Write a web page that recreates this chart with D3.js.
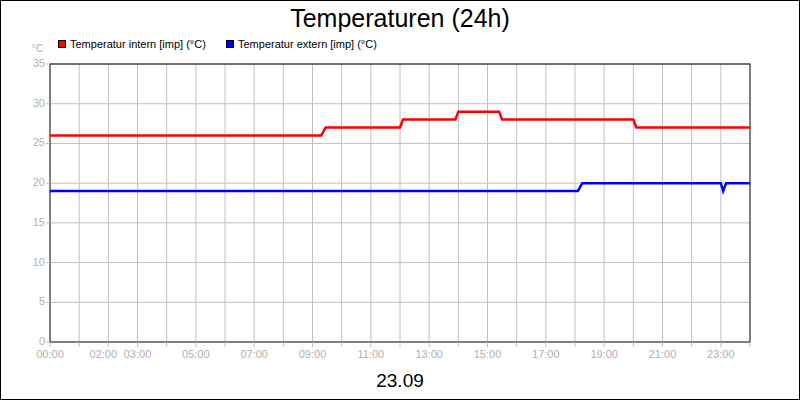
<!DOCTYPE html><html><head><meta charset="utf-8"><script src="https://cdn.jsdelivr.net/npm/d3@7"></script>
<style>body{margin:0}svg{font-family:"Liberation Sans",Arial,sans-serif}</style></head><body><svg id="c" width="800" height="400"></svg>
<script>
const internHours=[0,9.3,9.45,12.0,12.1,13.9,14.0,15.4,15.5,20.0,20.1,24];
const internVals=[26,26,27,27,28,28,29,29,28,28,27,27];
const externHours=[0,18.1,18.25,23.0,23.08,23.18,24];
const externVals=[19,19,20,20,19,20,20];
const tickHours=[0,2,3,5,7,9,11,13,15,17,19,21,23];
const tickLabels=["00:00","02:00","03:00","05:00","07:00","09:00","11:00","13:00","15:00","17:00","19:00","21:00","23:00"];
const yTicks=[0,5,10,15,20,25,30,35];
const svg=d3.select("#c");
svg.append("rect").attr("x",0.5).attr("y",0.5).attr("width",799).attr("height",399).attr("fill","#fff").attr("stroke","#000");
const x=d3.scaleLinear().domain([0,24]).range([50,750]);
const y=d3.scaleLinear().domain([0,35]).range([342,64]);
const g=svg.append("g");
g.selectAll(".vg").data(d3.range(1,24)).join("line").attr("x1",d=>x(d)).attr("x2",d=>x(d)).attr("y1",64).attr("y2",342).attr("stroke","#c0c0c0");
g.selectAll(".hg").data(yTicks.slice(1)).join("line").attr("x1",50).attr("x2",750).attr("y1",d=>y(d)).attr("y2",d=>y(d)).attr("stroke","#c0c0c0");
svg.append("rect").attr("x",50).attr("y",64).attr("width",700).attr("height",278).attr("fill","none").attr("stroke","#000");
svg.selectAll(".yt").data(yTicks).join("line").attr("x1",46).attr("x2",50).attr("y1",d=>y(d)).attr("y2",d=>y(d)).attr("stroke","#c0c0c0");
svg.selectAll(".yl").data(yTicks).join("text").attr("x",45).attr("y",d=>y(d)+3).attr("text-anchor","end").attr("font-size",11).attr("fill","#b0b0b0").text(d=>d);
svg.selectAll(".xt").data(d3.range(0,25)).join("line").attr("x1",d=>x(d)).attr("x2",d=>x(d)).attr("y1",342).attr("y2",347).attr("stroke","#c0c0c0");
svg.selectAll(".xl").data(tickHours).join("text").attr("x",(d,i)=>x(d)+(i==1?-5:0)).attr("y",358).attr("text-anchor","middle").attr("font-size",11).attr("fill","#b0b0b0").text((d,i)=>tickLabels[i]);
svg.append("text").attr("x",43).attr("y",52).attr("text-anchor","end").attr("font-size",10).attr("fill","#b0b0b0").text("°C");
const line=d3.line().x(d=>x(d[0])).y(d=>y(d[1]));
svg.append("path").attr("d",line(internHours.map((h,i)=>[h,internVals[i]]))).attr("fill","none").attr("stroke","#ff0000").attr("stroke-width",2.5);
svg.append("path").attr("d",line(externHours.map((h,i)=>[h,externVals[i]]))).attr("fill","none").attr("stroke","#0000ff").attr("stroke-width",2.5);
svg.append("text").attr("x",400).attr("y",27).attr("text-anchor","middle").attr("font-size",25).text("Temperaturen (24h)");
svg.append("text").attr("x",400).attr("y",387).attr("text-anchor","middle").attr("font-size",19).text("23.09");
const leg=[["Temperatur intern [imp] (°C)","#ff0000",58],["Temperatur extern [imp] (°C)","#0000ff",226]];
leg.forEach(l=>{svg.append("rect").attr("x",l[2]+0.5).attr("y",40.5).attr("width",7).attr("height",7).attr("fill",l[1]).attr("stroke","#000");
svg.append("text").attr("x",l[2]+12).attr("y",48).attr("font-size",11).text(l[0]);});
</script></body></html>
